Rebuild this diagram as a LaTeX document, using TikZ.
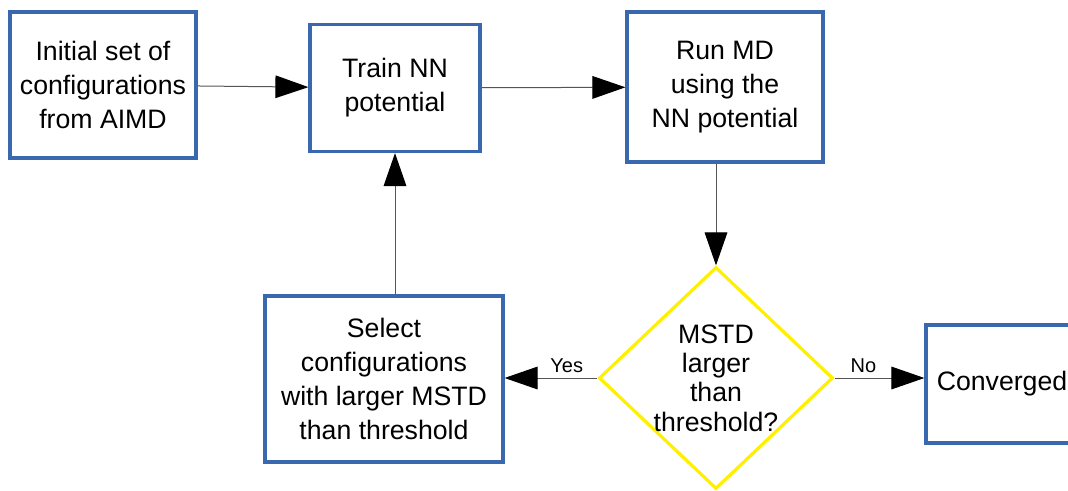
\documentclass[tikz,border=0pt]{standalone}
\usepackage{fontspec}
\setmainfont{Liberation Sans}
\usepackage{tikz}
\usetikzlibrary{positioning, arrows.meta, calc, shapes.geometric}
\definecolor{myBlue}{HTML}{3A68AE}
\definecolor{myYellow}{HTML}{FFF000}
\definecolor{myGray}{HTML}{555555}

\begin{document}
\begin{tikzpicture}[
  x=0.75pt, y=-0.75pt,
  box/.style={draw=myBlue, line width=2.4pt, fill=white,
              font=\fontsize{20}{25.5}\selectfont, align=center},
  decision/.style={diamond, draw=myYellow, line width=2.4pt, fill=white,
              minimum width=175.5pt, minimum height=166.5pt, inner sep=0pt},
  arr/.style={-{Triangle[length=24.75pt, width=17pt, color=black]}, line width=0.75pt, myGray},
  lbl/.style={font=\fontsize{15}{18}\selectfont, text=black, above}
]
\useasboundingbox (0,0) rectangle (1068,490);
\clip (0,0) rectangle (1068,490);

\node[box, minimum width=139.5pt, minimum height=109.5pt] (init) at (103,85)
  {Initial set of\\configurations\\from AIMD};
\node[box, minimum width=127.5pt, minimum height=95.25pt] (train) at (395,88)
  {Train NN\\potential};
\node[box, minimum width=147pt, minimum height=112.5pt] (run) at (725,87)
  {Run MD\\using the\\NN potential};
\node[decision, label={[align=center, font=\fontsize{20}{22}\selectfont]center:MSTD\\larger\\than\\threshold?}]
  (dia) at (716,378) {};
\node[box, minimum width=178.5pt, minimum height=124.5pt] (sel) at (384,379)
  {Select\\configurations\\with larger MSTD\\than threshold};
\node[box, minimum width=114pt, minimum height=88.5pt] (conv) at (1002,384)
  {Converged};

\draw[arr] (init) -- (train);
\draw[arr] (train) -- (run);
\draw[arr] (dia.north |- run.south) -- (dia.north);
\draw[arr] (dia.west) -- node[lbl, pos=0.33] {Yes} (dia.west -| sel.east);
\draw[arr] (dia.east) -- node[lbl, pos=0.32] {No} (dia.east -| conv.west);
\draw[arr] (train.south |- sel.north) -- (train.south);
\end{tikzpicture}
\end{document}
